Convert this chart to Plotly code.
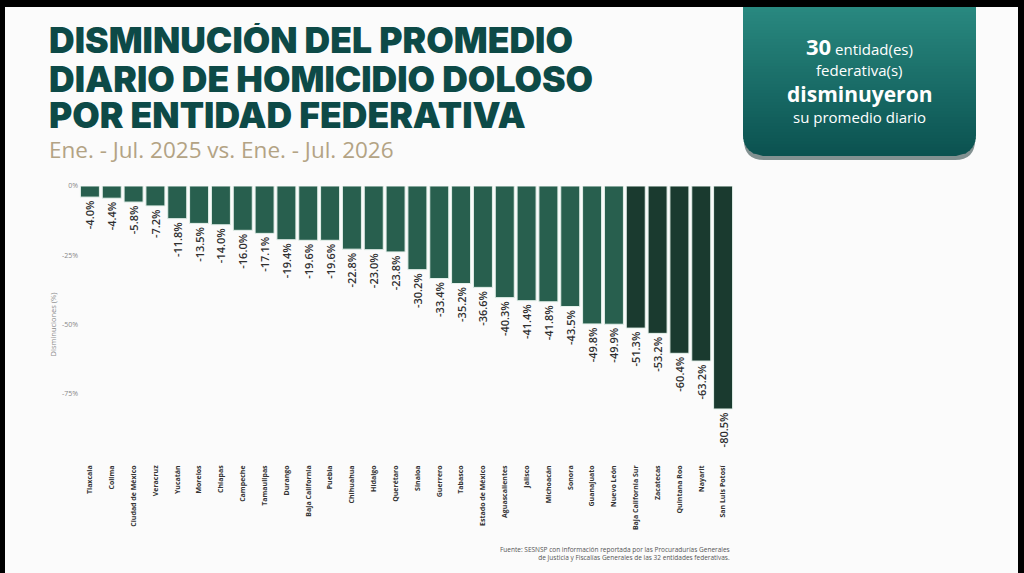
import math
import plotly.graph_objects as go

# ---------------- data ----------------
states = ["Tlaxcala", "Colima", "Ciudad de México", "Veracruz", "Yucatán", "Morelos",
          "Chiapas", "Campeche", "Tamaulipas", "Durango", "Baja California", "Puebla",
          "Chihuahua", "Hidalgo", "Querétaro", "Sinaloa", "Guerrero", "Tabasco",
          "Estado de México", "Aguascalientes", "Jalisco", "Michoacán", "Sonora",
          "Guanajuato", "Nuevo León", "Baja California Sur", "Zacatecas",
          "Quintana Roo", "Nayarit", "San Luis Potosí"]
decrease_pct = [-4.0, -4.4, -5.8, -7.2, -11.8, -13.5, -14.0, -16.0, -17.1, -19.4,
                -19.6, -19.6, -22.8, -23.0, -23.8, -30.2, -33.4, -35.2, -36.6, -40.3,
                -41.4, -41.8, -43.5, -49.8, -49.9, -51.3, -53.2, -60.4, -63.2, -80.5]
y_ticks = [0, -25, -50, -75]
y_tick_labels = ["0%", "-25%", "-50%", "-75%"]
n_entities = 30

# ---------------- geometry ----------------
W, H = 1024, 573
ML, MR, MT, MB = 79, 290, 186, 110
PW, PH = W - ML - MR, H - MT - MB


def px(x):
    return (x - ML) / PW


def py(y):
    return (H - MB - y) / PH


GREEN = "#285f4e"
DARK = "#1a3a2f"
bar_colors = [GREEN if v > -50 else DARK for v in decrease_pct]

fig = go.Figure()
fig.add_trace(go.Bar(
    x=states, y=decrease_pct,
    marker=dict(color=bar_colors, line=dict(color="#e3f0ea", width=1)),
    text=[f"{v:.1f}%" for v in decrease_pct],
    textposition="outside", textangle=-90, constraintext="none", cliponaxis=False,
    textfont=dict(family="Open Sans", size=11, color="#2e2e2e", weight=600),
    hoverinfo="skip", showlegend=False,
))

shapes = []

# info box with gradient + rounded bottom corners
bx0, bx1, by0, by1, r = 743, 976, 0, 156, 20


def rounded_path(x0, x1, y0, y1, rad):
    return (f"M {px(x0)},{py(y0)} L {px(x1)},{py(y0)} L {px(x1)},{py(y1 - rad)} "
            f"Q {px(x1)},{py(y1)} {px(x1 - rad)},{py(y1)} L {px(x0 + rad)},{py(y1)} "
            f"Q {px(x0)},{py(y1)} {px(x0)},{py(y1 - rad)} Z")


shapes.append(dict(type="path", xref="paper", yref="paper", path=rounded_path(bx0 + 1, bx1 - 1, by0, by1 + 4, r),
                   fillcolor="rgba(10,40,40,0.5)", line=dict(width=0), layer="below"))

top_c = (43, 140, 131)
bot_c = (11, 82, 80)
n_strips = 52


def inset(yy):
    if yy <= by1 - r:
        return 0.0
    d = min(yy - (by1 - r), r)
    return r - math.sqrt(max(r * r - d * d, 0))


for i in range(n_strips):
    ya = by0 + (by1 - by0) * i / n_strips
    yb = min(by0 + (by1 - by0) * (i + 1) / n_strips + 0.6, by1)
    t = (i + 0.5) / n_strips
    c = tuple(int(top_c[k] + (bot_c[k] - top_c[k]) * t) for k in range(3))
    ia, ib = inset(ya), inset(yb)
    path = (f"M {px(bx0 + ia)},{py(ya)} L {px(bx1 - ia)},{py(ya)} "
            f"L {px(bx1 - ib)},{py(yb)} L {px(bx0 + ib)},{py(yb)} Z")
    shapes.append(dict(type="path", xref="paper", yref="paper", path=path,
                       fillcolor=f"rgb{c}", line=dict(width=0), layer="below"))

# black photo borders (drawn last, on top)
for (x0, x1, y0, y1) in [(0, W, 0, 7), (1018, W, 0, H), (0, 5, 0, H)]:
    shapes.append(dict(type="rect", xref="paper", yref="paper", x0=px(x0), x1=px(x1),
                       y0=py(y1), y1=py(y0), fillcolor="rgb(0,0,0)",
                       line=dict(width=0), layer="above"))

annotations = []
TITLE_C = "#0d4a47"
for txt, yy in [("DISMINUCIÓN DEL PROMEDIO", 40),
                ("DIARIO DE HOMICIDIO DOLOSO", 79),
                ("POR ENTIDAD FEDERATIVA", 115)]:
    annotations.append(dict(text=txt, xref="paper", yref="paper", x=px(47), y=py(yy),
                            xanchor="left", yanchor="middle", showarrow=False, height=34,
                            font=dict(family="Inter", size=35.5, color=TITLE_C, weight=900)))
annotations.append(dict(text="Ene. - Jul. 2025 vs. Ene. - Jul. 2026", xref="paper", yref="paper",
                        x=px(47), y=py(149), xanchor="left", yanchor="middle", showarrow=False,
                        font=dict(family="Open Sans", size=22.5, color="#b3a384")))

cx = 859
box_lines = [
    (f"<b><span style='font-size:22px'>{n_entities}</span></b> entidad(es)", 46),
    ("federativa(s)", 70),
    ("<b><span style='font-size:21px'>disminuyeron</span></b>", 94),
    ("su promedio diario", 117),
]
for txt, yy in box_lines:
    annotations.append(dict(text=txt, xref="paper", yref="paper", x=px(cx), y=py(yy),
                            xanchor="center", yanchor="middle", showarrow=False,
                            font=dict(family="Open Sans", size=15, color="#ffffff")))

annotations.append(dict(
    text="Fuente: SESNSP con información reportada por las Procuradurías Generales<br>"
         "de Justicia y Fiscalías Generales de las 32 entidades federativas.",
    xref="paper", yref="paper", x=px(732), y=py(553), xanchor="right", yanchor="middle",
    align="right", showarrow=False, font=dict(family="Open Sans", size=6.5, color="#555")))

fig.update_layout(
    width=W, height=H,
    margin=dict(l=ML, r=MR, t=MT, b=MB, pad=0),
    paper_bgcolor="#fbfbfb", plot_bgcolor="rgba(0,0,0,0)",
    bargap=0.13,
    shapes=shapes, annotations=annotations,
    xaxis=dict(tickangle=-90, showgrid=False, zeroline=False, showline=False, ticks="",
               tickfont=dict(family="Open Sans", size=7, color="#333", weight=700),
               range=[-0.5, len(states) - 0.5], fixedrange=True),
    yaxis=dict(range=[-100, 0], tickvals=y_ticks, ticktext=y_tick_labels, showgrid=False,
               zeroline=False, showline=False, ticks="",
               tickfont=dict(family="Open Sans", size=7, color="#888"),
               title=dict(text="Disminuciones (%)", standoff=4,
                          font=dict(family="Open Sans", size=7.5, color="#888")),
               fixedrange=True),
    font=dict(family="Open Sans"),
)

fig.write_html("out.html", config={"displayModeBar": False},
               post_script="document.body.style.margin='0px';")
